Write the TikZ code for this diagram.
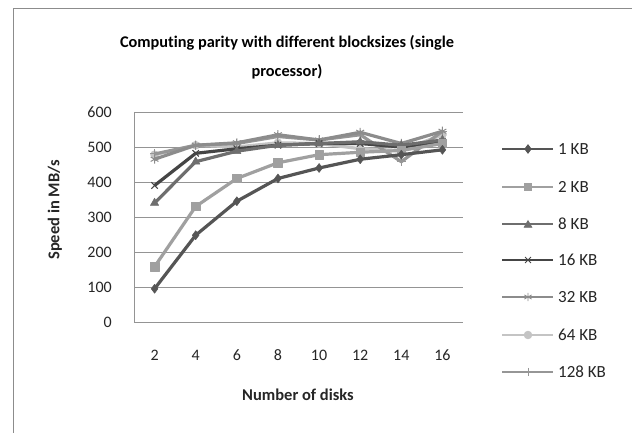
\documentclass[tikz,border=0pt]{standalone}
\usepackage{fontspec}
\setmainfont{Carlito}[Ligatures=NoCommon]
\usetikzlibrary{plotmarks}
\definecolor{cA}{HTML}{555555}
\definecolor{cB}{HTML}{A0A0A0}
\definecolor{cC}{HTML}{6E6E6E}
\definecolor{cD}{HTML}{454545}
\definecolor{cE}{HTML}{8C8C8C}
\definecolor{cF}{HTML}{C4C4C4}
\definecolor{cG}{HTML}{969696}
\tikzset{
  grid line/.style={draw=black!42, line width=0.9pt},
  ser/.style={line width=3.2pt, line join=round},
  ticklab/.style={font=\fontsize{16}{19}\selectfont, text=black!85},
  axtitle/.style={font=\bfseries\fontsize{16.5}{19}\selectfont, text=black!85},
  legtext/.style={font=\fontsize{17}{20}\selectfont, text=black!85, anchor=west, inner sep=0pt},
}
\begin{document}
\begin{tikzpicture}[x=1pt,y=-1pt]
\useasboundingbox (0,0) rectangle (632,433);
\fill[white] (0,0) rectangle (632,433);
% chart frame (clipped at right and bottom)
\draw[black!45, line width=1.2pt] (13.5,436) -- (13.5,8.5) -- (636,8.5);
% title
\node[font=\bfseries\fontsize{16.3}{29.5}\selectfont, align=center, text=black] (title) at (287,57)
  {Computing parity with different blocksizes (single\\processor)};
% grid
\foreach \v/\yy in {100/287,200/252,300/217,400/182,500/147,600/112}{
  \draw[grid line] (134,\yy) -- (463,\yy);
}
\draw[grid line] (134,322) -- (463,322);
\draw[grid line] (134,112) -- (134,322);
% y tick labels
\foreach \v/\yy in {0/322,100/287,200/252,300/217,400/182,500/147,600/112}{
  \node[ticklab, anchor=east, inner sep=0pt] (yl\v) at (112,\yy) {\v};
}
% x tick labels
\foreach \i/\lab in {0/2,1/4,2/6,3/8,4/10,5/12,6/14,7/16}{
  \node[ticklab] (xl\lab) at ({134+41.125*(\i+0.5)},355) {\lab};
}
\node[axtitle] (xtitle) at (298,395) {Number of disks};
\node[axtitle, rotate=90] (ytitle) at (55,210) {Speed in MB/s};
% data
\begin{scope}[shift={(134,322)}, x=41.125pt, y=0.35pt]
\draw[ser, cF, mark=*, mark size=4pt, mark options={fill=cF, draw=cF, line width=0.5pt}]
  plot coordinates {(0.5,478) (1.5,505) (2.5,500) (3.5,512) (4.5,510) (5.5,495) (6.5,490) (7.5,535)};
\draw[ser, cG, mark=+, mark size=4.5pt, mark options={line width=1pt}]
  plot coordinates {(0.5,480) (1.5,505) (2.5,510) (3.5,530) (4.5,520) (5.5,535) (6.5,458) (7.5,545)};
\draw[ser, cE, mark=asterisk, mark size=4.5pt, mark options={line width=1pt}]
  plot coordinates {(0.5,465) (1.5,505) (2.5,512) (3.5,535) (4.5,520) (5.5,542) (6.5,510) (7.5,545)};
\draw[ser, cD, mark=x, mark size=4.5pt, mark options={line width=1pt}]
  plot coordinates {(0.5,390) (1.5,482) (2.5,495) (3.5,505) (4.5,510) (5.5,510) (6.5,500) (7.5,515)};
\draw[ser, cC, mark=triangle*, mark size=4.8pt, mark options={fill=cC, draw=cC, line width=0.5pt}]
  plot coordinates {(0.5,340) (1.5,458) (2.5,488) (3.5,505) (4.5,510) (5.5,515) (6.5,505) (7.5,520)};
\draw[ser, cB, mark=square*, mark size=4.2pt, mark options={fill=cB, draw=cB, line width=0.5pt}]
  plot coordinates {(0.5,158) (1.5,330) (2.5,410) (3.5,455) (4.5,478) (5.5,485) (6.5,490) (7.5,510)};
\draw[ser, cA, mark=diamond*, mark size=4.5pt, mark options={fill=cA, draw=cA, line width=0.5pt}]
  plot coordinates {(0.5,95) (1.5,248) (2.5,345) (3.5,410) (4.5,440) (5.5,465) (6.5,478) (7.5,492)};
\end{scope}
% legend
\foreach \k/\c/\m/\ms/\lab/\yy in {
  a/cA/diamond*/4.2pt/1 KB/149,
  b/cB/square*/3.8pt/2 KB/187,
  c/cC/triangle*/4.4pt/8 KB/224,
  d/cD/x/4.2pt/16 KB/260,
  e/cE/asterisk/4.2pt/32 KB/297,
  f/cF/*/3.8pt/64 KB/335,
  g/cG/+/4.2pt/128 KB/372}{
  \coordinate (la\k) at (502,\yy);
  \coordinate (lb\k) at (553,\yy);
  \draw[\c, line width=2.4pt] (la\k) -- (lb\k);
  \path (528,\yy) node[inner sep=0pt] (lm\k) {\tikz\draw[\c, fill=\c, line width=0.8pt] plot[mark=\m, mark size=\ms] coordinates {(0,0)};};
  \node[legtext] (lt\k) at (558,\yy) {\lab};
}
\end{tikzpicture}
\end{document}
